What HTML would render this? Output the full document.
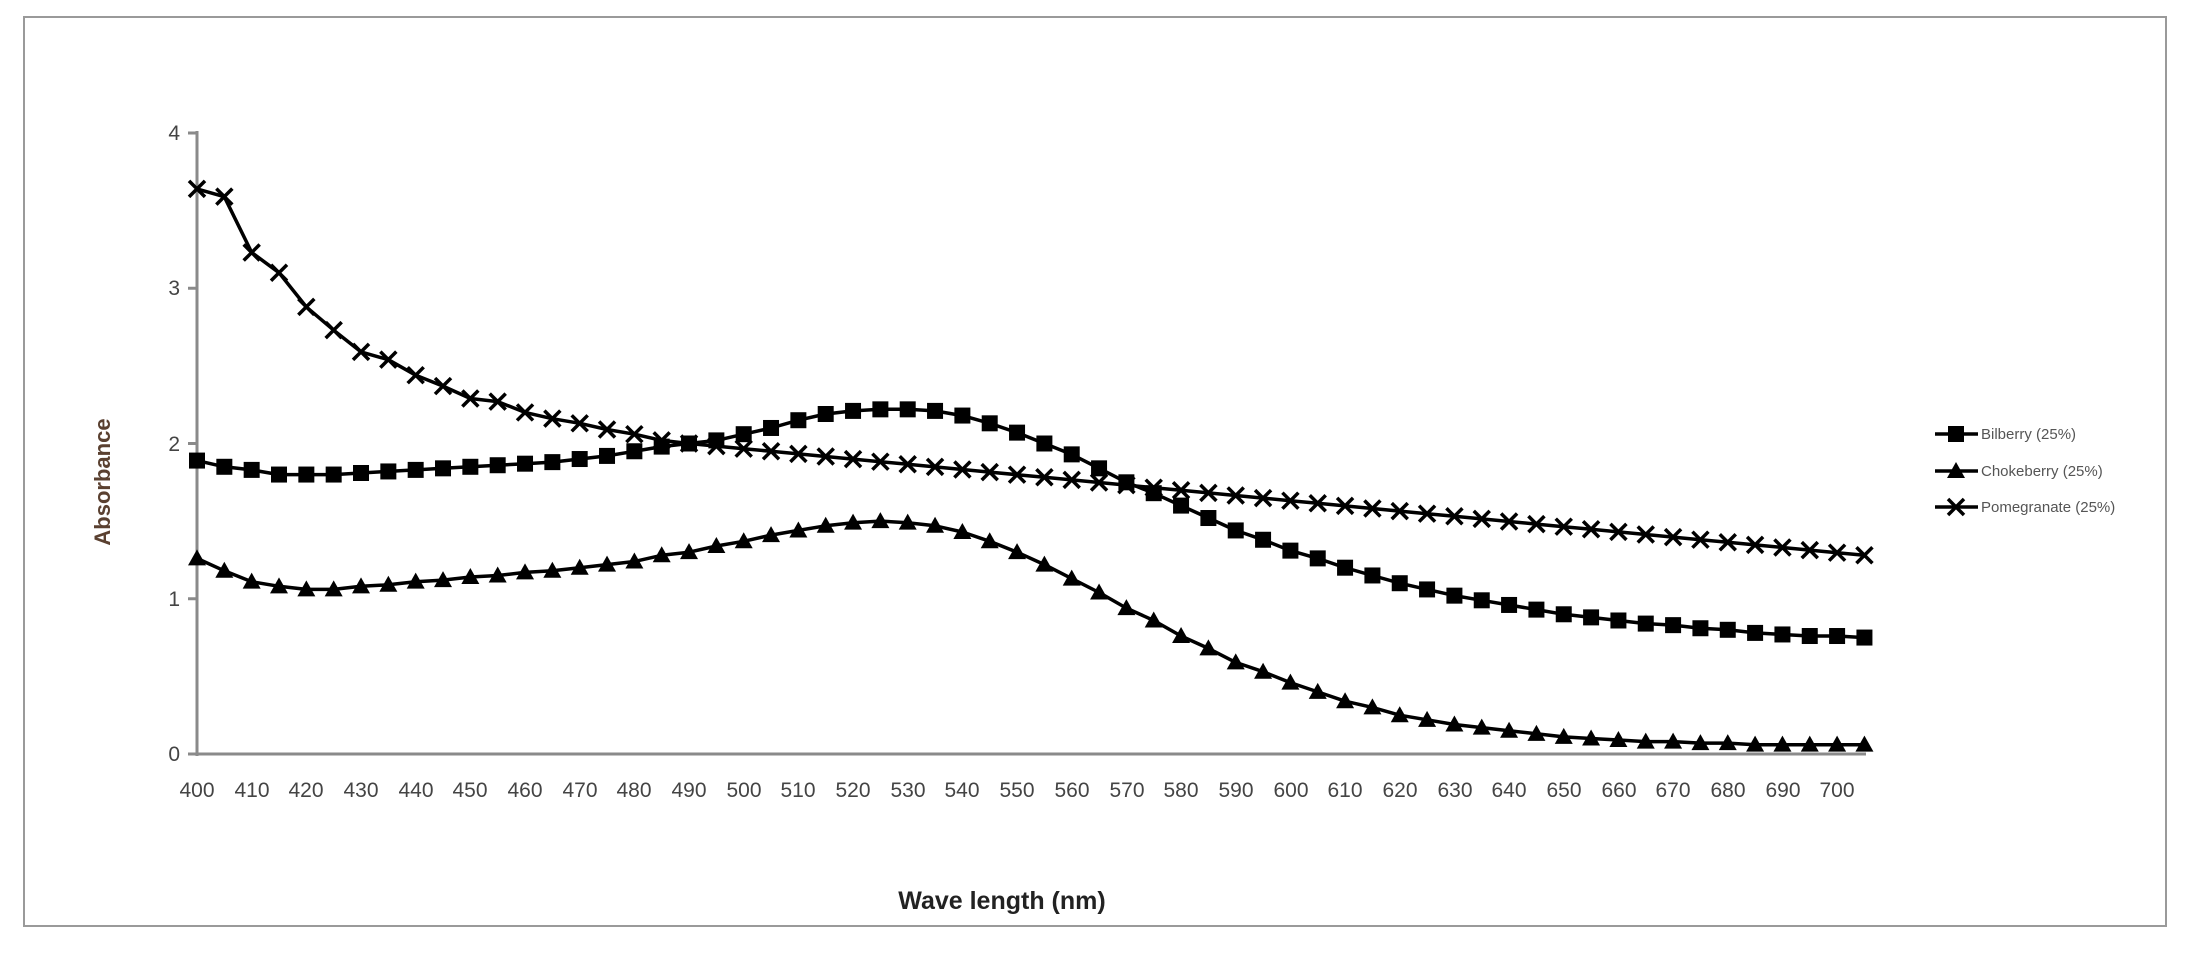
<!DOCTYPE html>
<html><head><meta charset="utf-8"><style>
html,body{margin:0;padding:0;background:#fff;}
svg{display:block;font-family:"Liberation Sans",sans-serif;}
</style></head><body>
<svg id="s" width="2191" height="955" viewBox="0 0 2191 955" xmlns="http://www.w3.org/2000/svg">
<rect x="24" y="17" width="2142" height="909" fill="#fff" stroke="#9a9a9a" stroke-width="2"/>
<g fill="#444" font-size="21" text-anchor="end">
<text x="180" y="761">0</text>
<text x="180" y="606">1</text>
<text x="180" y="451">2</text>
<text x="180" y="295">3</text>
<text x="180" y="140">4</text>
</g>
<g id="xt" fill="#444" font-size="21" text-anchor="middle">
<text x="197" y="797">400</text><text x="252" y="797">410</text><text x="306" y="797">420</text><text x="361" y="797">430</text><text x="416" y="797">440</text><text x="470" y="797">450</text><text x="525" y="797">460</text><text x="580" y="797">470</text><text x="634" y="797">480</text><text x="689" y="797">490</text><text x="744" y="797">500</text><text x="798" y="797">510</text><text x="853" y="797">520</text><text x="908" y="797">530</text><text x="962" y="797">540</text><text x="1017" y="797">550</text><text x="1072" y="797">560</text><text x="1127" y="797">570</text><text x="1181" y="797">580</text><text x="1236" y="797">590</text><text x="1291" y="797">600</text><text x="1345" y="797">610</text><text x="1400" y="797">620</text><text x="1455" y="797">630</text><text x="1509" y="797">640</text><text x="1564" y="797">650</text><text x="1619" y="797">660</text><text x="1673" y="797">670</text><text x="1728" y="797">680</text><text x="1783" y="797">690</text><text x="1837" y="797">700</text>
</g>
<text transform="translate(110,482) rotate(-90)" text-anchor="middle" font-size="22" font-weight="bold" fill="#5a4030">Absorbance</text>
<text x="1002" y="909" text-anchor="middle" font-size="25" font-weight="bold" fill="#222">Wave length (nm)</text>
<g id="ax" stroke="#8a8a8a" stroke-width="3" fill="none"></g>
<g id="ser"></g>
<g font-size="15" fill="#555">
<text x="1981" y="439">Bilberry (25%)</text>
<text x="1981" y="476">Chokeberry (25%)</text>
<text x="1981" y="512">Pomegranate (25%)</text>
</g>
</svg>
<script>
var NS="http://www.w3.org/2000/svg";
function el(p,t,a){var e=document.createElementNS(NS,t);for(var k in a)e.setAttribute(k,a[k]);p.appendChild(e);return e;}
var ax=document.getElementById('ax'),ser=document.getElementById('ser');
el(ax,'line',{x1:197,y1:131,x2:197,y2:756});
el(ax,'line',{x1:195,y1:754,x2:1866,y2:754});
for(var i=0;i<=4;i++){var y=754-i*155.25;el(ax,'line',{x1:188,y1:y,x2:197,y2:y});}
var P=[3.64,3.59,3.23,3.1,2.88,2.73,2.59,2.54,2.44,2.37,2.29,2.27,2.2,2.16,2.13,2.09,2.06,2.02,2.0];
while(P.length<62){var n=P.length;P.push(2.0-(n-18)*(0.72/43));}
var B=[1.89,1.85,1.83,1.8,1.8,1.8,1.81,1.82,1.83,1.84,1.85,1.86,1.87,1.88,1.9,1.92,1.95,1.98,2.0,2.02,2.06,2.1,2.15,2.19,2.21,2.22,2.22,2.21,2.18,2.13,2.07,2.0,1.93,1.84,1.75,1.68,1.6,1.52,1.44,1.38,1.31,1.26,1.2,1.15,1.1,1.06,1.02,0.99,0.96,0.93,0.9,0.88,0.86,0.84,0.83,0.81,0.8,0.78,0.77,0.76,0.76,0.75];
var C=[1.26,1.18,1.11,1.08,1.06,1.06,1.08,1.09,1.11,1.12,1.14,1.15,1.17,1.18,1.2,1.22,1.24,1.28,1.3,1.34,1.37,1.41,1.44,1.47,1.49,1.5,1.49,1.47,1.43,1.37,1.3,1.22,1.13,1.04,0.94,0.86,0.76,0.68,0.59,0.53,0.46,0.4,0.34,0.3,0.25,0.22,0.19,0.17,0.15,0.13,0.11,0.1,0.09,0.08,0.08,0.07,0.07,0.06,0.06,0.06,0.06,0.06];
function X(i){return 197+i*27.335;}function Y(v){return 754-v*155.25;}
function mk(x,y,t){
 if(t=='s')el(ser,'rect',{x:x-8,y:y-8,width:16,height:16,fill:'#000'});
 else if(t=='t')el(ser,'path',{d:'M'+x+' '+(y-9)+'L'+(x+9)+' '+(y+7)+'L'+(x-9)+' '+(y+7)+'Z',fill:'#000'});
 else el(ser,'path',{d:'M'+(x-8)+' '+(y-8)+'L'+(x+8)+' '+(y+8)+'M'+(x+8)+' '+(y-8)+'L'+(x-8)+' '+(y+8),stroke:'#000','stroke-width':3.5});
}
function series(D,t){var d='';for(var i=0;i<D.length;i++)d+=(i?'L':'M')+X(i).toFixed(1)+' '+Y(D[i]).toFixed(1);
 el(ser,'path',{d:d,fill:'none',stroke:'#000','stroke-width':3.5,'stroke-linejoin':'round'});
 for(var i=0;i<D.length;i++)mk(X(i),Y(D[i]),t);}
series(P,'x');series(B,'s');series(C,'t');
[[434,'s'],[471,'t'],[507,'x']].forEach(function(a){el(ser,'line',{x1:1935,y1:a[0],x2:1978,y2:a[0],stroke:'#000','stroke-width':3.5});mk(1956,a[0],a[1]);});
</script>
</body></html>
